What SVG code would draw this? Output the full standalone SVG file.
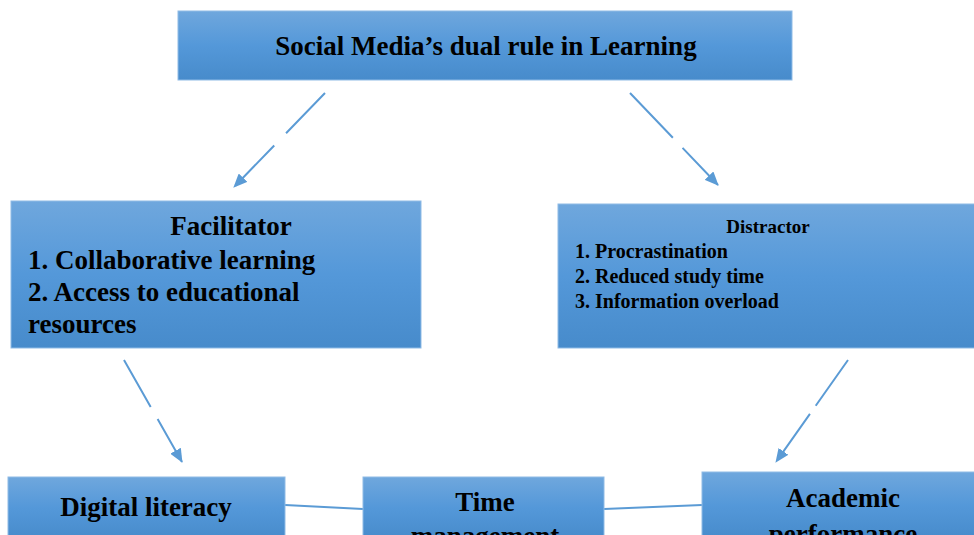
<svg xmlns="http://www.w3.org/2000/svg" width="974" height="535" viewBox="0 0 974 535">
<defs>
<linearGradient id="g" x1="0" y1="0" x2="0" y2="1">
<stop offset="0" stop-color="#6fa7dd"/>
<stop offset="0.5" stop-color="#5498d9"/>
<stop offset="1" stop-color="#478bcb"/>
</linearGradient>
<marker id="ah" markerWidth="14" markerHeight="12" refX="13" refY="6" orient="auto" markerUnits="userSpaceOnUse" viewBox="0 0 14 12">
<path d="M0,0 L14,6 L0,12 z" fill="#5b9bd5"/>
</marker>
</defs>
<style>
.box{fill:url(#g);stroke:#8fbbe6;stroke-width:1}
.t{font-family:"Liberation Serif","Times New Roman",serif;font-weight:bold;fill:#000}
.arr{stroke:#5b9bd5;stroke-width:2;fill:none;marker-end:url(#ah)}
.ln{stroke:#5b9bd5;stroke-width:2;fill:none}
</style>
<g id="connectors">
<path class="arr" d="M325,93 L234,187" stroke-dasharray="56,17"/>
<path class="arr" d="M630,93 L718,185" stroke-dasharray="62,14"/>
<path class="arr" d="M124,360 L182,462" stroke-dasharray="54,14"/>
<path class="arr" d="M848,360 L776,462" stroke-dasharray="56,10"/>
<path class="ln" d="M285,505 L363,509"/>
<path class="ln" d="M604,509 L702,505"/>
</g>
<g id="top">
<rect class="box" x="178" y="11" width="614" height="69"/>
<text class="t" x="486" y="55" font-size="27" text-anchor="middle">Social Media’s dual rule in Learning</text>
</g>
<g id="facilitator">
<rect class="box" x="11" y="201" width="410" height="147"/>
<text class="t" x="231" y="235" font-size="27" text-anchor="middle">Facilitator</text>
<text class="t" x="28" y="269" font-size="27">1. Collaborative learning</text>
<text class="t" x="28" y="301" font-size="27">2. Access to educational</text>
<text class="t" x="28" y="333" font-size="27">resources</text>
</g>
<g id="distractor">
<rect class="box" x="558" y="204" width="420" height="144"/>
<text class="t" x="768" y="233" font-size="19" text-anchor="middle">Distractor</text>
<text class="t" x="575" y="258" font-size="20">1. Procrastination</text>
<text class="t" x="575" y="283" font-size="20">2. Reduced study time</text>
<text class="t" x="575" y="308" font-size="20">3. Information overload</text>
</g>
<g id="digital">
<rect class="box" x="8" y="477" width="277" height="62"/>
<text class="t" x="146" y="516" font-size="27" text-anchor="middle">Digital literacy</text>
</g>
<g id="time">
<rect class="box" x="363" y="477" width="241" height="62"/>
<text class="t" x="485" y="511" font-size="27" text-anchor="middle">Time</text>
<text class="t" x="485" y="545" font-size="27" text-anchor="middle">management</text>
</g>
<g id="academic">
<rect class="box" x="702" y="472" width="276" height="67"/>
<text class="t" x="843" y="507" font-size="27" text-anchor="middle">Academic</text>
<text class="t" x="843" y="543" font-size="27" text-anchor="middle">performance</text>
</g>
</svg>
